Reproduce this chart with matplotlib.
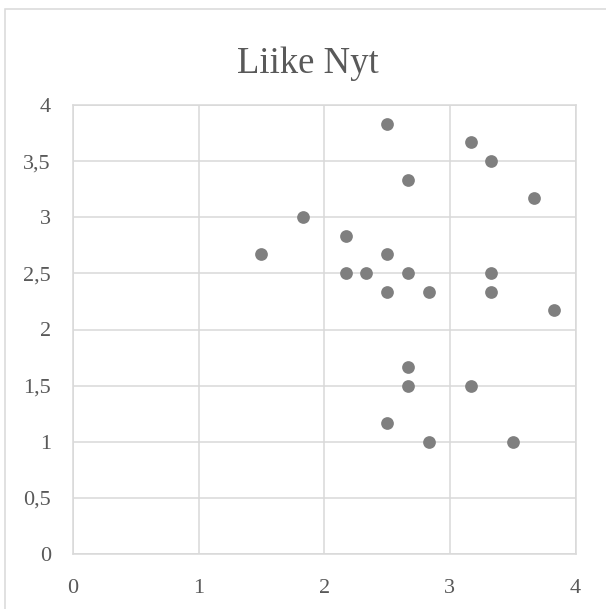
"""Liike Nyt scatter chart (Excel style)."""
import matplotlib.pyplot as plt
from matplotlib.patches import Rectangle
from matplotlib.ticker import FuncFormatter, MultipleLocator

x_vals = [2.5, 3.17, 3.33, 2.67, 3.67, 1.83, 2.17, 1.5, 2.5, 2.17, 2.33, 2.67,
          3.33, 2.5, 2.83, 3.33, 3.83, 2.67, 2.67, 3.17, 2.5, 2.83, 3.5]
y_vals = [3.83, 3.67, 3.5, 3.33, 3.17, 3.0, 2.83, 2.67, 2.67, 2.5, 2.5, 2.5,
          2.5, 2.33, 2.33, 2.33, 2.17, 1.67, 1.5, 1.5, 1.17, 1.0, 1.0]
title = "Liike Nyt"

plt.rcParams['font.family'] = ['Liberation Serif', 'DejaVu Serif']

grid_col = '#d9d9d9'
text_col = '#595959'

fig = plt.figure(figsize=(6.06, 6.09), dpi=100)
ax = fig.add_axes([73 / 606, 55 / 609, 502.5 / 606, 449 / 609])

ax.scatter(x_vals, y_vals, s=84, color='#7f7f7f', linewidths=0, zorder=3)

ax.set_xlim(0, 4)
ax.set_ylim(0, 4)
ax.xaxis.set_major_locator(MultipleLocator(1))
ax.yaxis.set_major_locator(MultipleLocator(0.5))
fmt = FuncFormatter(lambda v, p: f"{v:g}".replace('.', ','))
ax.xaxis.set_major_formatter(fmt)
ax.yaxis.set_major_formatter(fmt)
ax.tick_params(axis='both', length=0, labelsize=16, labelcolor=text_col)
ax.tick_params(axis='x', pad=18)
ax.tick_params(axis='y', pad=16)

ax.grid(True, color=grid_col, linewidth=1.1)
ax.set_axisbelow(True)
for sp in ax.spines.values():
    sp.set_color(grid_col)
    sp.set_linewidth(1.1)

fig.text(0.508, 1 - 73 / 609, title, ha='center', va='baseline',
         fontsize=26.5, color=text_col)

# outer chart border (cropped on right and bottom)
fig.patches.append(Rectangle((5 / 606, -0.1), 1.2, 1 - 9 / 609 + 0.1,
                             transform=fig.transFigure, fill=False,
                             edgecolor=grid_col, linewidth=1.1))

plt.savefig("out.png", dpi=100, facecolor='white')
plt.close()
